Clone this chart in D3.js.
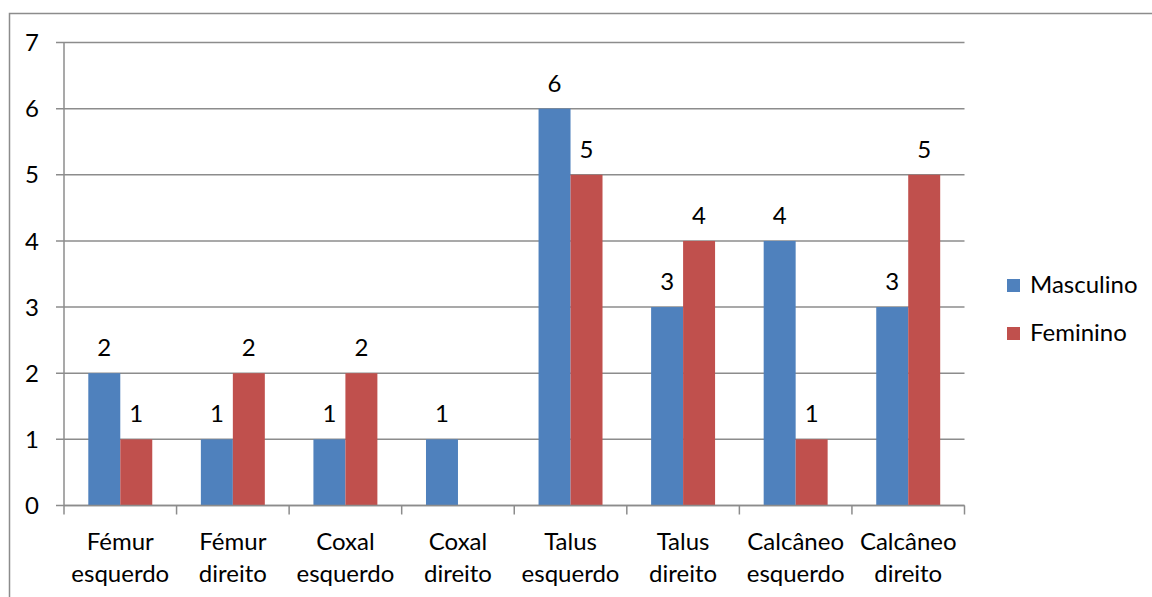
<!DOCTYPE html>
<html>
<head>
<meta charset="utf-8">
<script src="https://cdn.jsdelivr.net/npm/d3@7"></script>
<style>
  html, body { margin: 0; padding: 0; background: #fff; }
  svg { display: block; }
  text { font-family: Lato, "Noto Sans", sans-serif; fill: #000; }
</style>
</head>
<body>
<svg id="chart" width="1152" height="597"></svg>
<script>
// Bone counts per anatomical element, by sex
const categories = [
  ["Fémur", "esquerdo"], ["Fémur", "direito"],
  ["Coxal", "esquerdo"], ["Coxal", "direito"],
  ["Talus", "esquerdo"], ["Talus", "direito"],
  ["Calcâneo", "esquerdo"], ["Calcâneo", "direito"]
];
const seriesNames = ["Masculino", "Feminino"];
const masculino = [2, 1, 1, 1, 6, 3, 4, 3];
const feminino = [1, 2, 2, 0, 5, 4, 1, 5];
const yTicks = [0, 1, 2, 3, 4, 5, 6, 7];
const colors = ["#4F81BD", "#C0504D"];

const series = [masculino, feminino];
const svg = d3.select("#chart");
const gridColor = "#8c8c8c";
const fontSize = 24;

// Outer frame
svg.append("path")
  .attr("d", "M9.5,597 V13.5 H1152")
  .attr("fill", "none")
  .attr("stroke", gridColor)
  .attr("stroke-width", 1.5);

const plot = { left: 64, right: 964.5, top: 42.5, bottom: 505.5 };

const x = d3.scaleBand()
  .domain(d3.range(categories.length))
  .range([plot.left, plot.right])
  .padding(0);

const xInner = d3.scaleBand()
  .domain(d3.range(seriesNames.length))
  .range([24.3, x.bandwidth() - 24.3])
  .padding(0);

const y = d3.scaleLinear().domain([0, 7]).range([plot.bottom, plot.top]);

// Horizontal gridlines
svg.append("g")
  .selectAll("line")
  .data(yTicks)
  .join("line")
  .attr("x1", plot.left - 8)
  .attr("x2", plot.right)
  .attr("y1", d => y(d))
  .attr("y2", d => y(d))
  .attr("stroke", gridColor)
  .attr("stroke-width", 1.5);

// Y axis line and labels
svg.append("line")
  .attr("x1", plot.left).attr("x2", plot.left)
  .attr("y1", plot.top).attr("y2", plot.bottom)
  .attr("stroke", gridColor).attr("stroke-width", 1.5);

svg.append("g")
  .selectAll("text")
  .data(yTicks)
  .join("text")
  .attr("x", 39)
  .attr("y", d => y(d))
  .attr("dy", "0.36em")
  .attr("text-anchor", "end")
  .attr("font-size", fontSize)
  .text(d => d);

// Bars
const groups = svg.append("g")
  .selectAll("g")
  .data(categories)
  .join("g")
  .attr("transform", (d, i) => `translate(${x(i)},0)`);

groups.selectAll("rect")
  .data((d, i) => series.map((s, k) => ({ k, v: s[i] })))
  .join("rect")
  .attr("x", d => xInner(d.k))
  .attr("width", xInner.bandwidth())
  .attr("y", d => y(d.v))
  .attr("height", d => y(0) - y(d.v))
  .attr("fill", d => colors[d.k]);

// Value labels
groups.selectAll("text.value")
  .data((d, i) => series.map((s, k) => ({ k, v: s[i] })).filter(d => d.v > 0))
  .join("text")
  .attr("class", "value")
  .attr("x", d => xInner(d.k) + xInner.bandwidth() / 2)
  .attr("y", d => y(d.v) - 17)
  .attr("text-anchor", "middle")
  .attr("font-size", fontSize)
  .text(d => d.v);

// X axis baseline and tick marks
svg.append("line")
  .attr("x1", plot.left).attr("x2", plot.right)
  .attr("y1", plot.bottom).attr("y2", plot.bottom)
  .attr("stroke", gridColor).attr("stroke-width", 1.5);

svg.append("g")
  .selectAll("line")
  .data(d3.range(categories.length + 1))
  .join("line")
  .attr("x1", i => plot.left + i * x.step())
  .attr("x2", i => plot.left + i * x.step())
  .attr("y1", plot.bottom)
  .attr("y2", plot.bottom + 9)
  .attr("stroke", gridColor).attr("stroke-width", 1.5);

// Category labels (two lines)
const catLabels = svg.append("g")
  .selectAll("text")
  .data(categories)
  .join("text")
  .attr("text-anchor", "middle")
  .attr("font-size", fontSize)
  .attr("transform", (d, i) => `translate(${x(i) + x.bandwidth() / 2},0)`);

catLabels.selectAll("tspan")
  .data(d => d)
  .join("tspan")
  .attr("x", 0)
  .attr("y", (d, j) => 550 + j * 32)
  .text(d => d);

// Legend
const legend = svg.append("g")
  .selectAll("g")
  .data(seriesNames)
  .join("g")
  .attr("transform", (d, i) => `translate(1007,${279 + i * 48})`);

legend.append("rect")
  .attr("width", 13)
  .attr("height", 13)
  .attr("fill", (d, i) => colors[i]);

legend.append("text")
  .attr("x", 23)
  .attr("y", 14)
  .attr("font-size", fontSize)
  .text(d => d);
</script>
</body>
</html>
